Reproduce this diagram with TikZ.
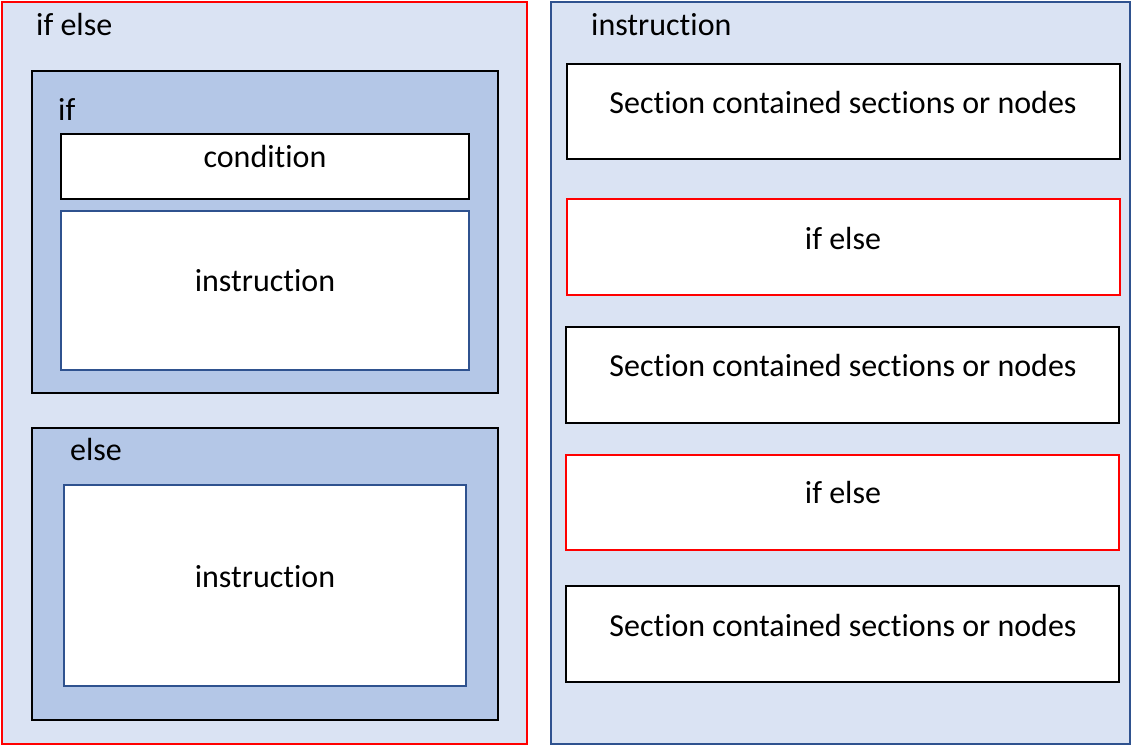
\documentclass[tikz,border=0pt]{standalone}
\usepackage{fontspec}
\setmainfont[Ligatures={NoCommon}]{Carlito}
\definecolor{paleblue}{HTML}{DAE3F3}
\definecolor{midblue}{HTML}{B4C7E7}
\definecolor{edgeblue}{HTML}{2F528F}
\definecolor{edgered}{HTML}{FF0000}
\begin{document}
\begin{tikzpicture}[x=1pt,y=-1pt,
  lbl/.style={font=\fontsize{32}{38}\selectfont, text=black, inner sep=0pt},
  outerbox/.style={fill=paleblue, line width=1.6pt},
  groupbox/.style={fill=midblue, draw=black, line width=2pt},
  whitebox/.style={fill=white, line width=1.8pt},
]
\useasboundingbox (0,0) rectangle (1133,746);
% left container: if/else construct
\draw[outerbox, draw=edgered] (2,2) rectangle (527,744);
\node[lbl, anchor=west] (ifelse) at (36,25) {if else};
% if branch
\draw[groupbox] (32,71) rectangle (498,393);
\node[lbl, anchor=west] (iflbl) at (58,109) {if};
\draw[whitebox, draw=black] (61,134) rectangle (469,199);
\node[lbl] (cond) at (265,157) {condition};
\draw[whitebox, draw=edgeblue, line width=1.4pt] (61,211) rectangle (469,370);
\node[lbl] (instr1) at (265,281) {instruction};
% else branch
\draw[groupbox] (32,428) rectangle (498,720);
\node[lbl, anchor=west] (elselbl) at (70,450) {else};
\draw[whitebox, draw=edgeblue, line width=1.4pt] (64,485) rectangle (466,686);
\node[lbl] (instr2) at (265,577) {instruction};
% right container: instruction sequence
\draw[outerbox, draw=edgeblue] (551,2) rectangle (1130,744);
\node[lbl, anchor=west] (instrlbl) at (591,25) {instruction};
\draw[whitebox, draw=black] (567,64) rectangle (1120,159);
\node[lbl] (s1) at (843,103) {Section contained sections or nodes};
\draw[whitebox, draw=edgered, line width=1.4pt] (567,199) rectangle (1120,295);
\node[lbl] (s2) at (843,239) {if else};
\draw[whitebox, draw=black] (566,327) rectangle (1119,423);
\node[lbl] (s3) at (843,366) {Section contained sections or nodes};
\draw[whitebox, draw=edgered, line width=1.4pt] (566,455) rectangle (1119,550);
\node[lbl] (s4) at (843,493) {if else};
\draw[whitebox, draw=black] (566,586) rectangle (1119,682);
\node[lbl] (s5) at (843,626) {Section contained sections or nodes};
\end{tikzpicture}
\end{document}
